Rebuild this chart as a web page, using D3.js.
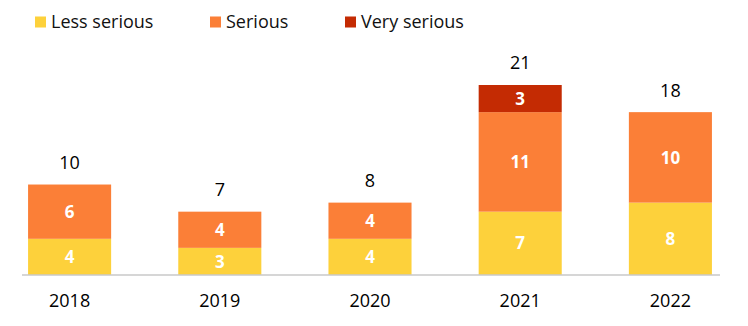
<!DOCTYPE html>
<html>
<head>
<meta charset="utf-8">
<script src="https://cdn.jsdelivr.net/npm/d3@7"></script>
<style>
  body { margin: 0; background: #fff; }
  svg { display: block; font-family: "Open Sans", "Liberation Sans", sans-serif; }
</style>
</head>
<body>
<div id="chart"></div>
<script>
var years = ["2018", "2019", "2020", "2021", "2022"]
var lessSerious = [4, 3, 4, 7, 8]
var serious = [6, 4, 4, 11, 10]
var verySerious = [0, 0, 0, 3, 0]
var seriesNames = ["Less serious", "Serious", "Very serious"]
var seriesColors = ["#fdd13b", "#fb7f37", "#c42b03"]

var width = 748, height = 326

var svg = d3.select('#chart')
    .append('svg')
    .attr('width', width)
    .attr('height', height)

var rows = years.map(function(y, i) {
    return { year: y, "Less serious": lessSerious[i], "Serious": serious[i], "Very serious": verySerious[i] }
})

var stack = d3.stack().keys(seriesNames)
var layers = stack(rows)

var x = d3.scaleBand()
    .domain(years)
    .range([-5.5, 745.5])
    .paddingInner(0.447)
    .paddingOuter(0.2235)

var y = d3.scaleLinear()
    .domain([0, 21])
    .range([275, 85])

var color = d3.scaleOrdinal().domain(seriesNames).range(seriesColors)

// bars
var layerG = svg.selectAll('g.layer')
    .data(layers)
    .enter()
    .append('g')
    .attr('class', 'layer')
    .attr('fill', function(d) { return color(d.key) })

layerG.selectAll('rect')
    .data(function(d) { return d })
    .enter()
    .append('rect')
    .attr('x', function(d) { return x(d.data.year) })
    .attr('width', x.bandwidth())
    .attr('y', function(d) { return y(d[1]) })
    .attr('height', function(d) { return y(d[0]) - y(d[1]) })

// segment labels
layerG.selectAll('text')
    .data(function(d) { return d.filter(function(p) { return p[1] - p[0] > 0 }) })
    .enter()
    .append('text')
    .attr('x', function(d) { return x(d.data.year) + x.bandwidth() / 2 })
    .attr('y', function(d) { return (y(d[0]) + y(d[1])) / 2 })
    .attr('dy', '0.36em')
    .attr('text-anchor', 'middle')
    .attr('fill', '#fff')
    .attr('font-weight', 'bold')
    .attr('font-size', 17)
    .text(function(d) { return d[1] - d[0] })

// totals
svg.selectAll('text.total')
    .data(rows)
    .enter()
    .append('text')
    .attr('class', 'total')
    .attr('x', function(d) { return x(d.year) + x.bandwidth() / 2 })
    .attr('y', function(d) { return y(d["Less serious"] + d["Serious"] + d["Very serious"]) - 22 })
    .attr('dy', '0.36em')
    .attr('text-anchor', 'middle')
    .attr('fill', '#000')
    .attr('font-size', 18)
    .text(function(d) { return d["Less serious"] + d["Serious"] + d["Very serious"] })

// axis
var axis = svg.append('g')
    .attr('transform', 'translate(0,275)')
    .call(d3.axisBottom(x).tickSize(0).tickPadding(19))
axis.select('.domain').remove()
axis.append('line')
    .attr('x1', 22).attr('x2', 720)
    .attr('stroke', '#c8c8c8').attr('stroke-width', 1.5)
axis.selectAll('.tick text')
    .attr('font-size', 18)
    .attr('font-family', '"Open Sans", "Liberation Sans", sans-serif')
    .attr('fill', '#000')

// legend
var legendX = [35, 210, 345]
var legend = svg.selectAll('g.legend')
    .data(seriesNames)
    .enter()
    .append('g')
    .attr('class', 'legend')
    .attr('transform', function(d, i) { return 'translate(' + legendX[i] + ',22)' })

legend.append('rect')
    .attr('x', 0).attr('y', -5.5)
    .attr('width', 11).attr('height', 11)
    .attr('fill', function(d) { return color(d) })

legend.append('text')
    .attr('x', 16)
    .attr('dy', '0.36em')
    .attr('font-size', 18)
    .attr('fill', '#111')
    .text(function(d) { return d })
</script>
</body>
</html>
